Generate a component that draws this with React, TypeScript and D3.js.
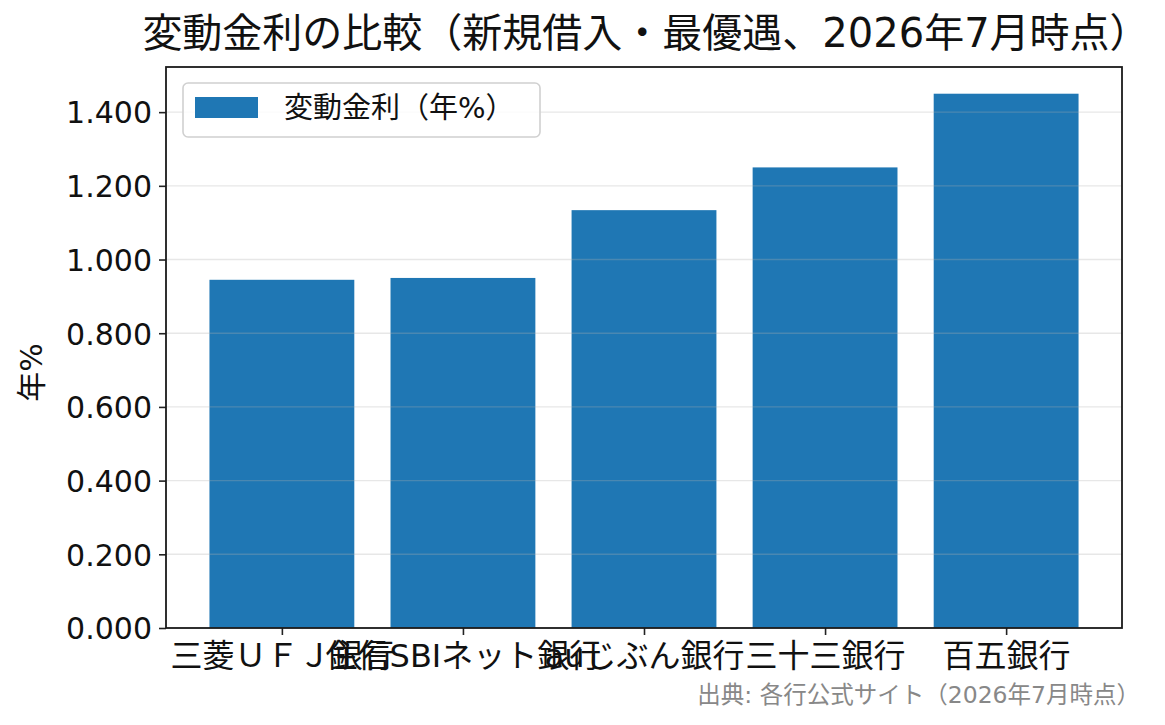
import * as d3 from 'd3';
import { useEffect, useRef } from 'react';

const banks = ['三菱ＵＦＪ銀行', '住信SBIネット銀行', 'auじぶん銀行', '三十三銀行', '百五銀行'];
const rates = [0.945, 0.950, 1.134, 1.250, 1.450];
const yTicks = [0, 0.2, 0.4, 0.6, 0.8, 1.0, 1.2, 1.4];
const seriesName = '変動金利（年%）';
const title = '変動金利の比較（新規借入・最優遇、2026年7月時点）';
const yLabel = '年%';
const source = '出典: 各行公式サイト（2026年7月時点）';

const FONT = '"DejaVu Sans", "Noto Sans CJK JP", sans-serif';

const App: React.FC = () => {
    const ref = useRef<SVGSVGElement | null>(null);

    useEffect(() => {
        if (!ref.current) return;
        const W = 1165, H = 725;
        const left = 166, right = 1122, top = 67, bottom = 628;

        const svg = d3.select(ref.current);
        svg.selectAll('*').remove();
        svg.attr('width', W).attr('height', H).style('font-family', FONT);

        svg.append('rect').attr('width', W).attr('height', H).attr('fill', '#fff');

        // matplotlib-style linear x with 0.8 wide bars and 5% margins
        const n = banks.length;
        const span = (n - 1) + 0.8;
        const x = d3.scaleLinear()
            .domain([-0.4 - span * 0.05, n - 1 + 0.4 + span * 0.05])
            .range([left, right]);

        const yMax = (d3.max(rates) || 0) * 1.05;
        const y = d3.scaleLinear().domain([0, yMax]).range([bottom, top]);

        // bars
        svg.append('g').selectAll('rect')
            .data(rates)
            .enter().append('rect')
            .attr('x', (_d, i) => x(i - 0.4))
            .attr('width', x(0.4) - x(-0.4))
            .attr('y', d => y(d))
            .attr('height', d => bottom - y(d))
            .attr('fill', '#1f77b4');

        // grid over bars
        svg.append('g').selectAll('line')
            .data(yTicks)
            .enter().append('line')
            .attr('x1', left).attr('x2', right)
            .attr('y1', d => y(d)).attr('y2', d => y(d))
            .attr('stroke', '#b0b0b0')
            .attr('stroke-opacity', 0.3)
            .attr('stroke-width', 1.4);

        // y axis
        const yAxis = svg.append('g')
            .attr('transform', `translate(${left},0)`)
            .call(d3.axisLeft(y).tickValues(yTicks).tickFormat(d3.format('.3f')).tickSize(7).tickPadding(7));
        yAxis.select('.domain').remove();
        yAxis.selectAll('line').attr('stroke', '#222').attr('stroke-width', 1.6);
        yAxis.selectAll('text')
            .attr('font-size', 30)
            .attr('font-family', FONT)
            .attr('fill', '#111')
            .attr('dy', '0.36em');

        // x axis
        const xAxis = svg.append('g')
            .attr('transform', `translate(0,${bottom})`)
            .call(d3.axisBottom(x).tickValues(d3.range(n)).tickFormat((_d, i) => banks[i]).tickSize(7).tickPadding(6));
        xAxis.select('.domain').remove();
        xAxis.selectAll('line').attr('stroke', '#222').attr('stroke-width', 1.6);
        xAxis.selectAll('text')
            .attr('font-size', 32)
            .attr('font-family', FONT)
            .attr('fill', '#111')
            .attr('dy', '0.82em');

        // frame
        svg.append('rect')
            .attr('x', left).attr('y', top)
            .attr('width', right - left).attr('height', bottom - top)
            .attr('fill', 'none')
            .attr('stroke', '#1a1a1a')
            .attr('stroke-width', 1.8);

        // title
        svg.append('text')
            .attr('x', 646)
            .attr('y', 47)
            .attr('text-anchor', 'middle')
            .attr('font-size', 40)
            .attr('fill', '#111')
            .text(title);

        // y label
        svg.append('text')
            .attr('transform', `translate(42,${(top + bottom) / 2 + 25}) rotate(-90)`)
            .attr('text-anchor', 'middle')
            .attr('font-size', 30)
            .attr('fill', '#111')
            .text(yLabel);

        // legend
        const lg = svg.append('g');
        lg.append('rect')
            .attr('x', 183).attr('y', 83)
            .attr('width', 357).attr('height', 54)
            .attr('rx', 5)
            .attr('fill', '#fff').attr('fill-opacity', 0.8)
            .attr('stroke', '#d0d0d0').attr('stroke-width', 1.6);
        lg.append('rect')
            .attr('x', 195).attr('y', 97)
            .attr('width', 63).attr('height', 21)
            .attr('fill', '#1f77b4');
        lg.append('text')
            .attr('x', 284).attr('y', 118)
            .attr('font-size', 29)
            .attr('fill', '#111')
            .text(seriesName);

        // source note
        svg.append('text')
            .attr('x', 1140).attr('y', 703)
            .attr('text-anchor', 'end')
            .attr('font-size', 23.5)
            .attr('fill', '#888')
            .text(source);
    }, []);

    return (
        <div>
            <svg ref={ref} style={{ position: 'absolute', left: 0, top: 0 }} />
        </div>
    );
};

export default App;
